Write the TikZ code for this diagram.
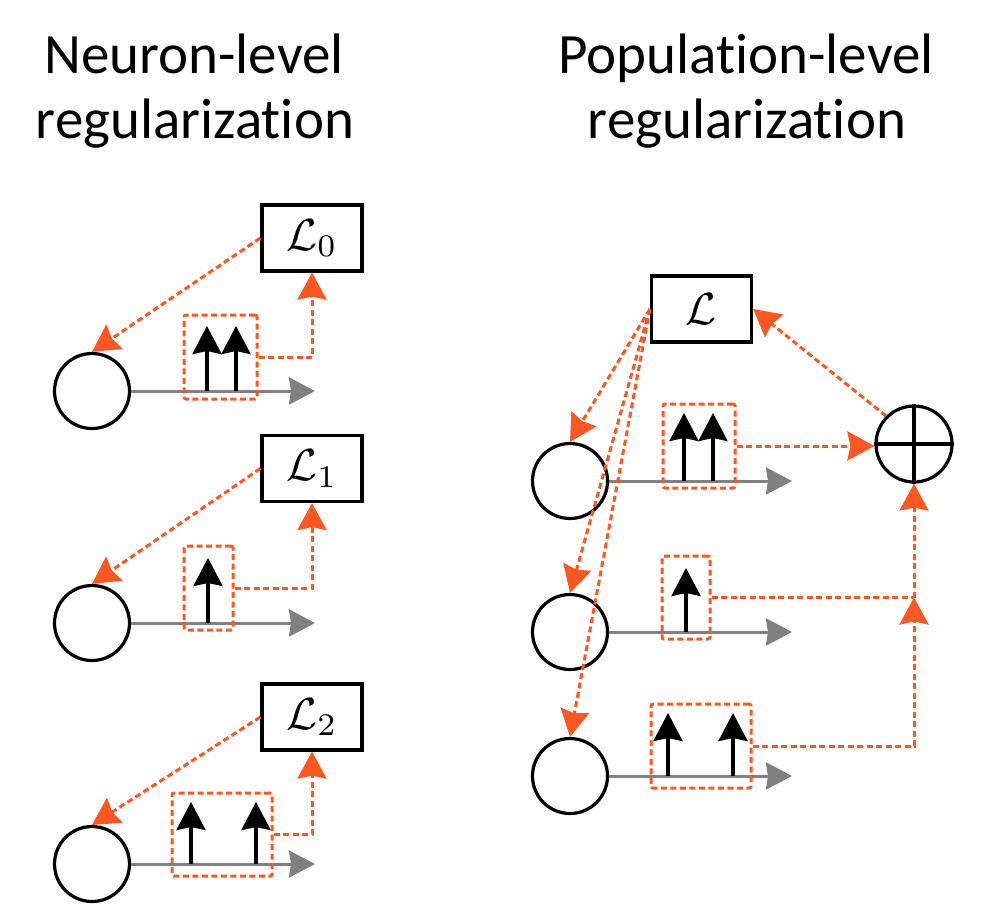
\documentclass[tikz,border=0pt]{standalone}
\usepackage{fontspec}
\setmainfont{Carlito}[Ligatures={NoCommon,NoRare}]
\usetikzlibrary{arrows.meta}
\definecolor{org}{HTML}{FF5722}
\newcommand{\bigL}[1]{\scalebox{4.5}{$\mathcal{L}#1$}}
\begin{document}
\begin{tikzpicture}[x=1pt,y=-1pt,
  neuron/.style={circle,draw=black,line width=3.2pt,minimum size=75pt,inner sep=0pt},
  lossbox/.style={draw=black,line width=3.2pt,minimum width=100pt,minimum height=66pt,inner sep=0pt},
  spikebox/.style={draw=org,line width=3pt,dash pattern=on 6pt off 3.5pt,rounded corners=2pt,inner sep=0pt},
  orgarrow/.style={draw=org,line width=3pt,dash pattern=on 6pt off 3.5pt,-{Stealth[length=27pt,width=29pt,inset=3pt]}},
  orgline/.style={draw=org,line width=3pt,dash pattern=on 6pt off 3.5pt},
  axisline/.style={draw=gray,line width=3pt,-{Stealth[length=26pt,width=27pt,inset=2pt]}},
  spikeline/.style={draw=black,line width=3.4pt,-{Stealth[length=28pt,width=29pt,inset=3pt]}},
  titletext/.style={font=\fontsize{57}{65}\selectfont,anchor=base,inner sep=0pt}
]
\useasboundingbox (0,0) rectangle (981,903);

% titles
\node[titletext] (tl1) at (194,73) {Neuron-level};
\node[titletext] (tl2) at (195,138) {regularization};
\node[titletext] (tr1) at (746,73) {Population-level};
\node[titletext] (tr2) at (747,138) {regularization};

% ---------------- left column ----------------
% neuron 1
\node[neuron] (n1) at (92,391) {};
\node[lossbox] (L0) at (312,238) {\bigL{_0}};
\coordinate (a1) at (315,391);
\draw[axisline] (n1.east) -- (a1);
\draw[spikeline] (207,391) -- (207,326);
\draw[spikeline] (236,391) -- (236,326);
\node[spikebox,minimum width=73pt,minimum height=84pt] (d1) at (220.5,357) {};
\draw[orgarrow] (L0.west) -- (n1.north);
\draw[orgarrow] (d1.east) -| (L0.south);

% neuron 2
\node[neuron] (n2) at (92,623) {};
\node[lossbox] (L1) at (312,468.5) {\bigL{_1}};
\coordinate (a2) at (315,623);
\draw[axisline] (n2.east) -- (a2);
\draw[spikeline] (208,623) -- (208,558);
\node[spikebox,minimum width=49pt,minimum height=84pt] (d2) at (208.5,588) {};
\draw[orgarrow] (L1.west) -- (n2.north);
\draw[orgarrow] (d2.east) -| (L1.south);

% neuron 3
\node[neuron] (n3) at (92,864) {};
\node[lossbox] (L2) at (312,717) {\bigL{_2}};
\coordinate (a3) at (315,864);
\draw[axisline] (n3.east) -- (a3);
\draw[spikeline] (191,864) -- (191,802);
\draw[spikeline] (256,864) -- (256,802);
\node[spikebox,minimum width=100pt,minimum height=83pt] (d3) at (222,834.5) {};
\draw[orgarrow] (L2.west) -- (n3.north);
\draw[orgarrow] (d3.east) -| (L2.south);

% ---------------- right column ----------------
\node[lossbox] (L) at (701.5,309) {\bigL{}};
\node[neuron,minimum size=76pt] (plus) at (914,444) {};
\draw[line width=3.2pt] (plus.north) -- (plus.south);
\draw[line width=3.2pt] (plus.west) -- (plus.east);

% neuron 1
\node[neuron] (m1) at (570,481) {};
\coordinate (b1) at (792,481);
\draw[axisline] (m1.east) -- (b1);
\draw[spikeline] (684,481) -- (684,413);
\draw[spikeline] (713,481) -- (713,413);
\node[spikebox,minimum width=72pt,minimum height=84pt] (e1) at (699,446) {};

% neuron 2
\node[neuron] (m2) at (570,632) {};
\coordinate (b2) at (792,632);
\draw[axisline] (m2.east) -- (b2);
\draw[spikeline] (686,632) -- (686,568);
\node[spikebox,minimum width=48pt,minimum height=83pt] (e2) at (686,597.5) {};

% neuron 3
\node[neuron] (m3) at (570,776) {};
\coordinate (b3) at (792,776);
\draw[axisline] (m3.east) -- (b3);
\draw[spikeline] (668,776) -- (668,713);
\draw[spikeline] (733,776) -- (733,713);
\node[spikebox,minimum width=100pt,minimum height=84pt] (e3) at (701,746) {};

% feedback arrows from L
\draw[orgarrow] (L.west) -- (m1.north);
\draw[orgarrow] (L.west) -- (m2.north);
\draw[orgarrow] (L.west) -- (m3.north);

% to summation
\draw[orgarrow] (e1.east) -- (e1.east -| plus.west);
\coordinate (j) at (plus.south |- e2.east);
\draw[orgline] (e2.east) -- (j);
\draw[orgarrow] (e3.east) -| (j);
\draw[orgarrow] (j) -- (plus.south);
\draw[orgarrow] (plus.north west) -- (L.east);
\end{tikzpicture}
\end{document}
